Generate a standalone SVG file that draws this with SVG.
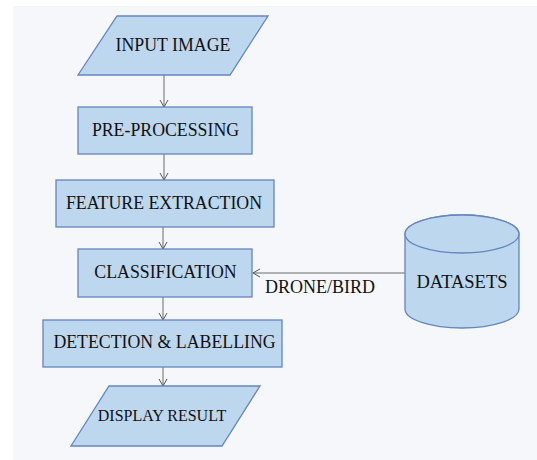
<svg xmlns="http://www.w3.org/2000/svg" width="537" height="460" viewBox="0 0 537 460">
<style>
.shape{fill:#bdd7ee;stroke:#6585bd;stroke-width:1.3}
.t{font-family:"Liberation Serif","Times New Roman",serif;font-size:17.8px;fill:#111;text-anchor:middle}
.c{stroke:#6b6b6b;stroke-width:1;fill:none}
</style>
<defs>
<marker id="ah" markerWidth="10" markerHeight="10" refX="8" refY="5" orient="auto" markerUnits="userSpaceOnUse">
<path d="M1,1 L8,5 L1,9" fill="none" stroke="#555" stroke-width="1"/>
</marker>
</defs>
<rect x="0" y="0" width="537" height="460" fill="#ffffff"/>
<rect x="13" y="6" width="524" height="454" fill="#f6f7fb"/>
<g id="connectors">
<line class="c" x1="164" y1="75" x2="164" y2="107" marker-end="url(#ah)"/>
<line class="c" x1="164" y1="154" x2="164" y2="180" marker-end="url(#ah)"/>
<line class="c" x1="163" y1="227" x2="163" y2="249" marker-end="url(#ah)"/>
<line class="c" x1="405" y1="273" x2="253" y2="273" marker-end="url(#ah)"/>
<line class="c" x1="163" y1="297" x2="163" y2="320" marker-end="url(#ah)"/>
<line class="c" x1="163" y1="367" x2="163" y2="386" marker-end="url(#ah)"/>
<text class="t" x="320" y="293" style="font-size:18px">DRONE/BIRD</text>
</g>
<g id="input">
<polygon class="shape" points="117,16 268,16 230,75 78,75"/>
<text class="t" x="173" y="51">INPUT IMAGE</text>
</g>
<g id="preprocessing">
<rect class="shape" x="78" y="107" width="174" height="47"/>
<text class="t" x="165.5" y="136">PRE-PROCESSING</text>
</g>
<g id="feature">
<rect class="shape" x="56" y="180" width="218" height="47"/>
<text class="t" x="164" y="209">FEATURE EXTRACTION</text>
</g>
<g id="classification">
<rect class="shape" x="78" y="249" width="174" height="48"/>
<text class="t" x="165.5" y="278">CLASSIFICATION</text>
</g>
<g id="detection">
<rect class="shape" x="43" y="320" width="239" height="47"/>
<text class="t" x="164.5" y="348">DETECTION &amp; LABELLING</text>
</g>
<g id="display">
<polygon class="shape" points="109,386 260,386 222,446 71,446"/>
<text class="t" x="162" y="421" style="font-size:16px">DISPLAY RESULT</text>
</g>
<g id="datasets">
<path class="shape" d="M405,234 L405,309 A57,19 0 0 0 519,309 L519,234 A57,19 0 0 0 405,234 Z"/>
<ellipse class="shape" cx="462" cy="234" rx="57" ry="19"/>
<text class="t" x="462" y="288" style="font-size:18.5px">DATASETS</text>
</g>
</svg>
